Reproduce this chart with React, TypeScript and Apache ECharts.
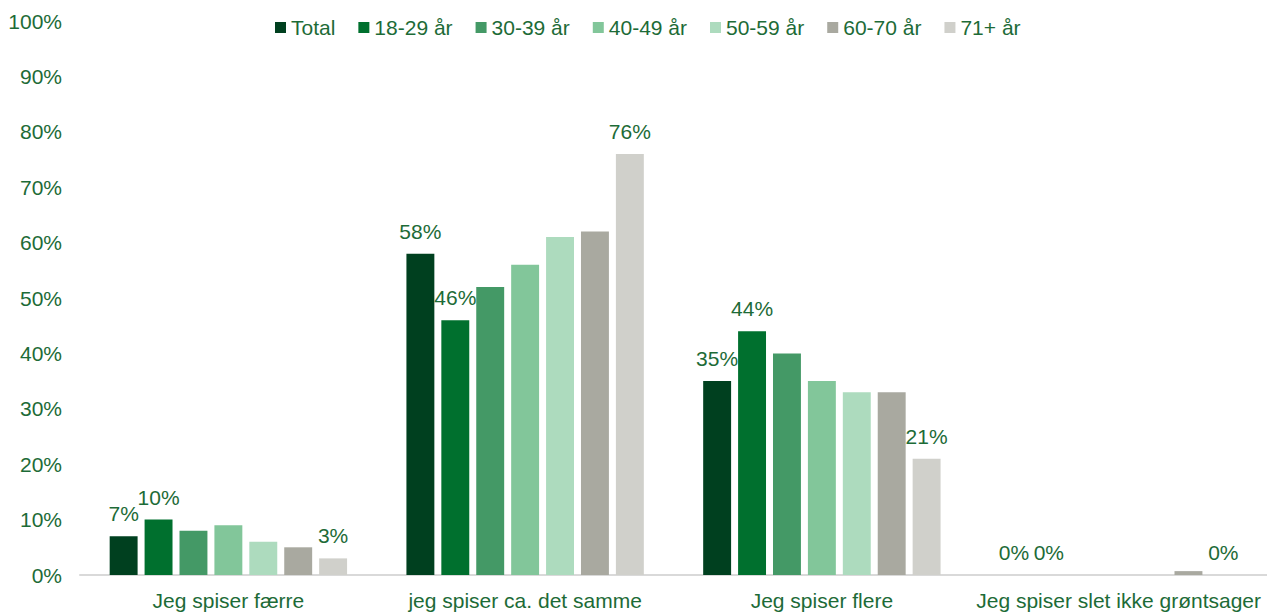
import React, { useEffect, useRef } from "react";
import * as echarts from "echarts";

const categories = ["Jeg spiser færre", "jeg spiser ca. det samme", "Jeg spiser flere", "Jeg spiser slet ikke grøntsager"];
const seriesNames = ["Total", "18-29 år", "30-39 år", "40-49 år", "50-59 år", "60-70 år", "71+ år"];
const total = [7, 58, 35, 0];
const age1829 = [10, 46, 44, 0];
const age3039 = [8, 52, 40, 0];
const age4049 = [9, 56, 35, 0];
const age5059 = [6, 61, 33, 0];
const age6070 = [5, 62, 33, 0.7];
const age71 = [3, 76, 21, 0];
const colors = ["#00401F", "#00702E", "#449966", "#82C69A", "#ADDBBE", "#A9A9A0", "#D0D0CB"];
const showLabels = [true, true, false, false, false, false, true];

const TEXT = "#1D6B37";
const FONT = "Liberation Sans, Arial, sans-serif";

export default function App() {
  const ref = useRef<HTMLDivElement>(null);
  useEffect(() => {
    if (!ref.current) return;
    const chart = echarts.init(ref.current, null, { renderer: "svg" });
    const data = [total, age1829, age3039, age4049, age5059, age6070, age71];
    chart.setOption({
      animation: false,
      textStyle: { fontFamily: FONT },
      legend: {
        top: 17,
        left: 275,
        padding: 0,
        itemWidth: 11,
        itemHeight: 11,
        itemGap: 23,
        icon: "rect",
        textStyle: { color: TEXT, fontSize: 21, fontFamily: FONT },
        data: seriesNames,
      },
      grid: { left: 80, right: 0, top: 21, bottom: 37, containLabel: false },
      xAxis: {
        type: "category",
        data: categories,
        axisLine: { lineStyle: { color: "#D9D9D9", width: 2 } },
        axisTick: { show: false },
        axisLabel: { color: TEXT, fontSize: 21, fontFamily: FONT, margin: 15, interval: 0 },
      },
      yAxis: {
        type: "value",
        min: 0,
        max: 100,
        interval: 10,
        splitLine: { show: false },
        axisLine: { show: false },
        axisTick: { show: false },
        axisLabel: { color: TEXT, fontSize: 21, fontFamily: FONT, margin: 18, formatter: "{value}%" },
      },
      series: seriesNames.map((name, i) => ({
        name,
        type: "bar",
        data: data[i],
        barGap: "25%",
        barCategoryGap: "20%",
        itemStyle: { color: colors[i] },
        label: {
          show: showLabels[i],
          position: "top",
          distance: 12,
          color: TEXT,
          fontSize: 21,
          fontFamily: FONT,
          formatter: (p: any) => `${Math.round(p.value)}%`,
        },
      })),
    });
    return () => chart.dispose();
  }, []);
  return <div ref={ref} style={{ width: 1267, height: 612, position: "absolute", left: 0, top: 0 }} />;
}
